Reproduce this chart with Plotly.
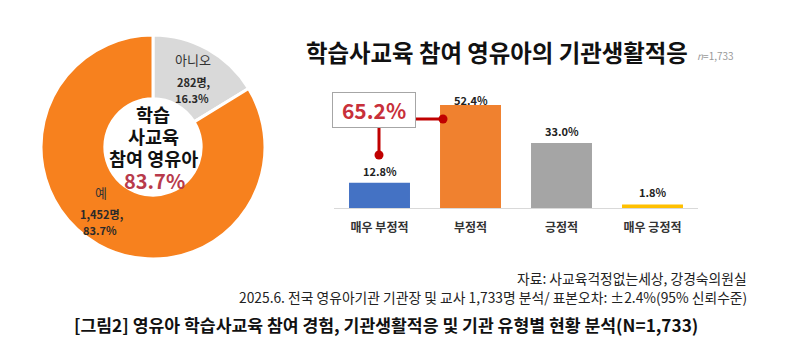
import plotly.graph_objects as go

# ---- data ----
pie_labels = ["아니오", "예"]
pie_counts = [282, 1452]
pie_pcts = [16.3, 83.7]
pie_colors = ["#D9D9D9", "#F7811E"]

bar_categories = ["매우 부정적", "부정적", "긍정적", "매우 긍정적"]
bar_values = [12.8, 52.4, 33.0, 1.8]
bar_colors = ["#4472C4", "#F0812F", "#A5A5A5", "#FFC000"]

chart_title = "학습사교육 참여 영유아의 기관생활적응"
n_text = "<i>n</i>=1,733"
source_lines = ["자료: 사교육걱정없는세상, 강경숙의원실",
                "2025.6. 전국 영유아기관 기관장 및 교사 1,733명 분석/ 표본오차: ±2.4%(95% 신뢰수준)"]
figure_caption = "[그림2] 영유아 학습사교육 참여 경험, 기관생활적응 및 기관 유형별 현황 분석(N=1,733)"
center_lines = ["학습", "사교육", "참여 영유아"]

negative_total = round(bar_values[0] + bar_values[1], 1)

W, H = 800, 344
FONT = "Noto Sans CJK KR"
RED = "#C8303A"


def px(x):
    return x / W


def py(y):
    return 1 - y / H


def pann(x, y, text, size, color, xanchor="center", **kw):
    return dict(x=px(x), y=py(y), xref="paper", yref="paper", text=text, showarrow=False,
                xanchor=xanchor, yanchor="middle",
                font=dict(size=size, color=color, family=FONT), **kw)


fig = go.Figure()

fig.add_trace(go.Pie(
    labels=pie_labels, values=pie_counts, sort=False, direction="clockwise",
    rotation=0, hole=0.43, textinfo="none", hoverinfo="label+value+percent",
    marker=dict(colors=pie_colors, line=dict(color="white", width=3)),
    domain=dict(x=[px(41), px(265)], y=[py(259), py(35)]),
    showlegend=False,
))

fig.add_trace(go.Bar(
    x=bar_categories, y=bar_values, marker=dict(color=bar_colors, line=dict(width=0)),
    width=0.67, showlegend=False, hoverinfo="x+y",
))

ann = []
# bar value labels (the tallest one sits tight on its bar, as in the original)
vmax = max(bar_values)
for c, v in zip(bar_categories, bar_values):
    ann.append(dict(x=c, y=v, xref="x", yref="y", text=f"<b>{v:.1f}%</b>", showarrow=False,
                    xanchor="center", yanchor="middle", yshift=5 if v == vmax else 12,
                    font=dict(size=11, color="#222222", family=FONT)))

# chart title
ann.append(pann(497, 52, f"<b>{chart_title}</b>", 23.4, "#111111"))
ann.append(pann(695, 55, n_text, 10, "#9a9a9a", xanchor="left"))

# callout box
ann.append(pann(373.5, 110, f"<b>{negative_total}%</b>", 21, RED, width=80, height=32,
                bordercolor="#A6A6A6", borderwidth=1, bgcolor="white"))

# donut center (separate texts, tightly stacked)
center_y = [114, 136, 158]
for t, yy in zip(center_lines, center_y):
    ann.append(pann(153, yy, f"<b>{t}</b>", 18.5, "#111111"))
ann.append(pann(154, 180, f"<b>{pie_pcts[1]}%</b>", 20, "#B83A4B"))

# slice labels
slice_pos = [(193, 60), (101, 192)]
for lab, cnt, pct, (sx, sy) in zip(pie_labels, pie_counts, pie_pcts, slice_pos):
    ann.append(pann(sx, sy, lab, 13, "#333333"))
    ann.append(pann(sx, sy + 22, f"<b>{cnt:,}명,</b>", 11, "#2a2a2a"))
    ann.append(pann(sx - 1, sy + 38, f"<b>{pct}%</b>", 11, "#2a2a2a"))

# source lines
for txt, yy in zip(source_lines, [278, 297]):
    ann.append(pann(749, yy, txt, 13.8, "#222222", xanchor="right"))
ann.append(pann(386, 324, f"<b>{figure_caption}</b>", 17.2, "#111111"))

shapes = [
    dict(type="line", xref="paper", yref="paper", x0=px(414), x1=px(443), y0=py(119), y1=py(119),
         line=dict(color="#C00000", width=3)),
    dict(type="circle", xref="paper", yref="paper", x0=px(438.5), x1=px(447.5), y0=py(123.5), y1=py(114.5),
         fillcolor="#C00000", line=dict(color="#C00000", width=0)),
    dict(type="line", xref="paper", yref="paper", x0=px(379), x1=px(379), y0=py(127), y1=py(155),
         line=dict(color="#C00000", width=3)),
    dict(type="circle", xref="paper", yref="paper", x0=px(374.5), x1=px(383.5), y0=py(159.5), y1=py(150.5),
         fillcolor="#C00000", line=dict(color="#C00000", width=0)),
]

fig.update_layout(
    width=W, height=H, margin=dict(l=0, r=0, t=0, b=0),
    paper_bgcolor="white", plot_bgcolor="white",
    font=dict(family=FONT),
    bargap=0.33,
    xaxis=dict(domain=[px(334), px(698)], range=[-0.5, 3.5], showline=True, linecolor="#D9D9D9",
               linewidth=1, showgrid=False, zeroline=False, ticks="", ticklabelstandoff=9,
               tickfont=dict(size=12, color="#333333", family=FONT, weight="bold"), fixedrange=True),
    yaxis=dict(domain=[py(208), py(90)], range=[0, 60], visible=False, showgrid=False, fixedrange=True),
    annotations=ann, shapes=shapes,
)

fig.write_html("out.html")
